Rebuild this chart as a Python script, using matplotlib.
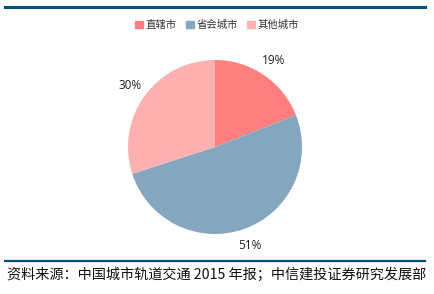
import numpy as np
import matplotlib.pyplot as plt
from matplotlib.lines import Line2D

plt.rcParams['font.family'] = ['Noto Sans CJK SC', 'DejaVu Sans']

labels = ['直辖市', '省会城市', '其他城市']
shares = [19, 51, 30]
colors = ['#FF7F7F', '#84A7BF', '#FFB0B0']
source = '资料来源：中国城市轨道交通 2015 年报；中信建投证券研究发展部'

fig = plt.figure(figsize=(4.35, 2.94), dpi=100)

# header / footer rules
fig.add_artist(Line2D([5/435, 425/435], [1 - 7/294] * 2, color='#00507F', lw=2.2))
fig.add_artist(Line2D([5/435, 425/435], [1 - 261/294] * 2, color='#00507F', lw=1.6))

ax = fig.add_axes([128/435, 60/294, 174/435, 174/294])
wedges, texts, autotexts = ax.pie(shares, colors=colors, startangle=90, counterclock=False,
                                  autopct='%d%%', pctdistance=1.2,
                                  textprops=dict(fontsize=8.5, color='#222222', family='Open Sans'))
ax.set_xlim(-1, 1)
ax.set_ylim(-1, 1)
ax.set_aspect('equal')
for t in autotexts:
    t.set_clip_on(False)

handles = [plt.Rectangle((0, 0), 1, 1, color=c) for c in colors]
fig.legend(handles, labels, loc='center', bbox_to_anchor=(217/435, 1 - 25/294), ncol=3,
           frameon=False, fontsize=7.5, handlelength=0.8, handleheight=0.8,
           handletextpad=0.2, columnspacing=0.9, labelcolor='#333333')

fig.text(7/435, 1 - 275/294, source, fontsize=10.2, va='center', ha='left', color='#111111')

fig.savefig('out.png', dpi=100)
